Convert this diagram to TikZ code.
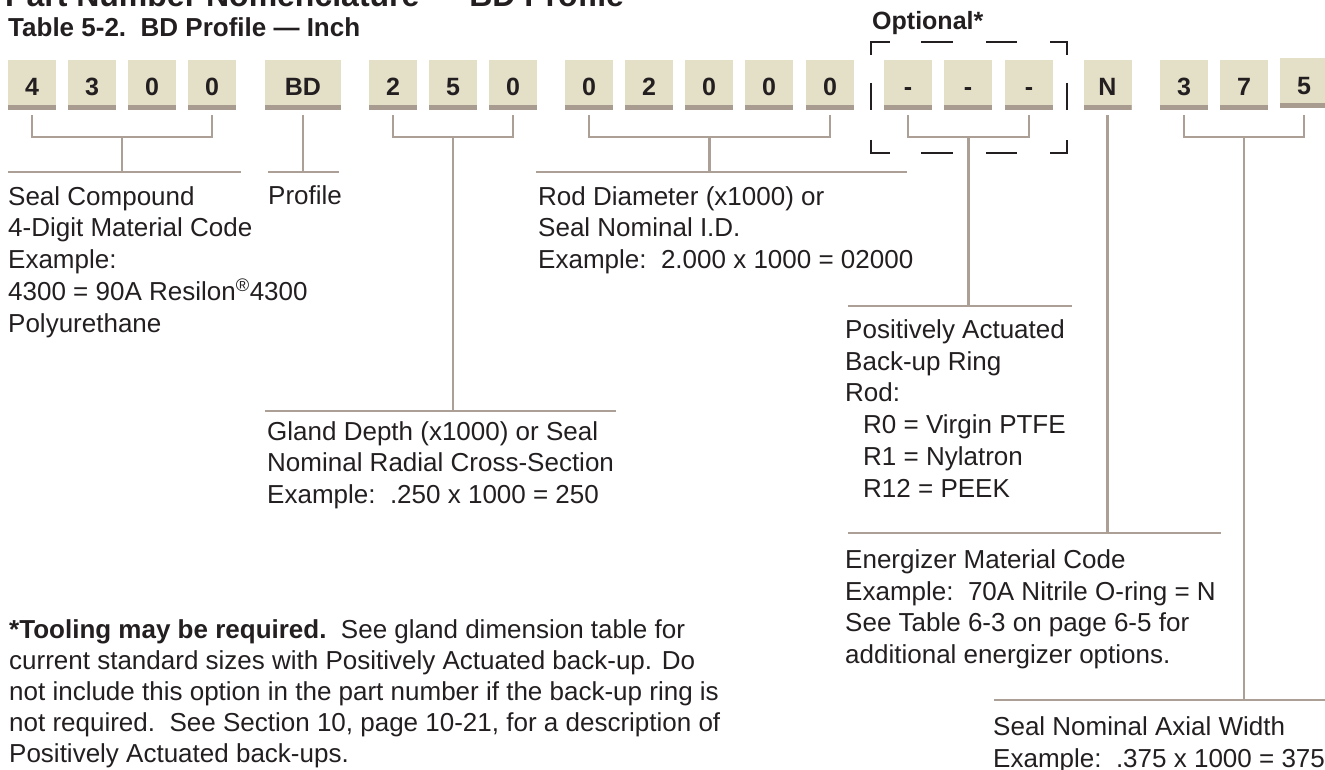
\documentclass[tikz,border=0pt]{standalone}
\usepackage{fontspec}
\setmainfont{Liberation Sans}
\usetikzlibrary{calc}
\definecolor{boxfill}{RGB}{228,223,199}
\definecolor{boxbar}{RGB}{168,155,143}
\definecolor{leader}{RGB}{172,160,150}
\definecolor{ink}{RGB}{35,31,32}
\tikzset{
  digit/.style={fill=boxfill, minimum width=48pt, minimum height=50pt, inner sep=0pt,
    text height=22pt, text depth=0pt, text=ink, font=\fontsize{25}{30}\selectfont\bfseries,
    path picture={\fill[boxbar] (path picture bounding box.south west) rectangle
      ($(path picture bounding box.south east)+(0pt,5pt)$);}},
  % multi-line labels sit on the baseline of their last line
  lbl/.style={anchor=base west, align=left, inner sep=0pt, text=ink,
    font=\fontsize{26}{31.7}\selectfont},
  heading/.style={anchor=base west, inner sep=0pt, text=ink},
}

\begin{document}
\begin{tikzpicture}[x=1pt, y=-1pt,
  conn/.style={draw=leader, line width=2.6pt},
  optdash/.style={draw=ink, line width=2.8pt}]
  \useasboundingbox (0,0) rectangle (1325,770);
  % headings
  \node[heading, font=\fontsize{32}{38}\selectfont\bfseries] (partnum) at (5,7) {Part Number Nomenclature — BD Profile};
  \node[heading, font=\fontsize{26}{31}\selectfont\bfseries] (tabname) at (8,37) {Table 5-2.\ \ BD Profile — Inch};
  \node[heading, font=\fontsize{25}{30}\selectfont\bfseries] (optlbl) at (872,30) {Optional*};
  % code boxes
  \foreach \n/\x/\t in {c1/32/4, c2/92/3, c3/152/0, c4/212/0, g1/393/2, g2/453/5, g3/513/0,
      r1/589/0, r2/649/2, r3/709/0, r4/769/0, r5/830/0, o1/908/-, o2/968/-, o3/1029/-,
      en/1107.5/N, w1/1184/3, w2/1244/7}
    \node[digit] (\n) at (\x,85) {\t};
  \node[digit] (w3) at (1304,83.5) {5};
  \node[digit, minimum width=76pt] (bd) at (303,85) {BD};
  % optional bracket
  \draw[optdash] (871,55) -- (871,42) -- (890,42);
  \draw[optdash] (1050,42) -- (1067,42) -- (1067,55);
  \draw[optdash] (871,140) -- (871,153) -- (890,153);
  \draw[optdash] (1050,153) -- (1067,153) -- (1067,140);
  \foreach \y in {42,153}
    \draw[optdash] (921,\y) -- (953,\y) (986,\y) -- (1017,\y);
  \foreach \x in {871,1067}
    \draw[optdash] (\x,83) -- (\x,110);
  % group brackets
  \draw[conn] ($(c1.south)+(0,5)$) |- ($(c4.south)+(0,27)$) -- ($(c4.south)+(0,5)$);
  \draw[conn] ($(g1.south)+(0,5)$) |- ($(g3.south)+(0,27)$) -- ($(g3.south)+(0,5)$);
  \draw[conn] ($(r1.south)+(0,5)$) |- ($(r5.south)+(0,27)$) -- ($(r5.south)+(0,5)$);
  \draw[conn] ($(o1.south)+(0,5)$) |- ($(o3.south)+(0,27)$) -- ($(o3.south)+(0,5)$);
  \draw[conn] ($(w1.south)+(0,5)$) |- ($(w3.south)+(0,28.5)$) -- ($(w3.south)+(0,6.5)$);
  \coordinate (cmid) at ($(c1.south)!.5!(c4.south)+(0,27)$);
  \coordinate (gmid) at ($(g1.south)!.5!(g3.south)+(0,27)$);
  \coordinate (rmid) at ($(r1.south)!.5!(r5.south)+(0,27)$);
  \coordinate (omid) at ($(o1.south)!.5!(o3.south)+(0,27)$);
  \coordinate (wmid) at ($(w1.south)!.5!(w3.south)+(0,27)$);
  % seal compound
  \coordinate (sealrule) at (8,172);
  \draw[conn] (sealrule) -- ++(233,0);
  \draw[conn] (cmid) -- (cmid |- sealrule);
  \node[lbl] (seal) at (8,332) {Seal Compound\\4-Digit Material Code\\Example:\\4300 = 90A Resilon\textsuperscript{®}4300\\Polyurethane};
  % profile
  \coordinate (profrule) at (268,172);
  \draw[conn] (profrule) -- ++(71,0);
  \draw[conn] ($(bd.south)+(0,5)$) -- (bd.south |- profrule);
  \node[lbl] (prof) at (268,205) {Profile};
  % rod diameter
  \coordinate (rodrule) at (536,172);
  \draw[conn] (rodrule) -- ++(371,0);
  \draw[conn] (rmid) -- (rmid |- rodrule);
  \node[lbl] (rod) at (538,268.5) {Rod Diameter (x1000) or\\Seal Nominal I.D.\\Example:\ \ 2.000 x 1000 = 02000};
  % gland depth
  \coordinate (glandrule) at (265,411);
  \draw[conn] (glandrule) -- ++(351,0);
  \draw[conn] (gmid) -- (gmid |- glandrule);
  \node[lbl] (gland) at (267,503.5) {Gland Depth (x1000) or Seal\\Nominal Radial Cross-Section\\Example:\ \ .250 x 1000 = 250};
  % back-up ring
  \coordinate (backrule) at (848,306);
  \draw[conn] (backrule) -- ++(224,0);
  \draw[conn] (omid) -- (omid |- backrule);
  \node[lbl] (backup) at (845,497) {Positively Actuated\\Back-up Ring\\Rod:\\\hspace*{18pt}R0 = Virgin PTFE\\\hspace*{18pt}R1 = Nylatron\\\hspace*{18pt}R12 = PEEK};
  % energizer
  \coordinate (enrule) at (848,533);
  \draw[conn] (enrule) -- ++(373,0);
  \draw[conn] ($(en.south)+(0,5)$) -- (en.south |- enrule);
  \node[lbl] (energ) at (845,663.5) {Energizer Material Code\\Example:\ \ 70A Nitrile O-ring = N\\See Table 6-3 on page 6-5 for\\additional energizer options.};
  % axial width
  \coordinate (widrule) at (994,700);
  \draw[conn] (widrule) -- ++(331,0);
  \draw[conn] (wmid) -- (wmid |- widrule);
  \node[lbl] (axial) at (993,767) {Seal Nominal Axial Width\\Example:\ \ .375 x 1000 = 375};
  % footnote
  \node[lbl, font=\fontsize{26}{31}\selectfont] (tooling) at (9,762) {\textbf{*Tooling may be required.}\ \ See gland dimension table for\\current standard sizes with Positively Actuated back-up. Do\\not include this option in the part number if the back-up ring is\\not required.\ \ See Section 10, page 10-21, for a description of\\Positively Actuated back-ups.};
\end{tikzpicture}
\end{document}
